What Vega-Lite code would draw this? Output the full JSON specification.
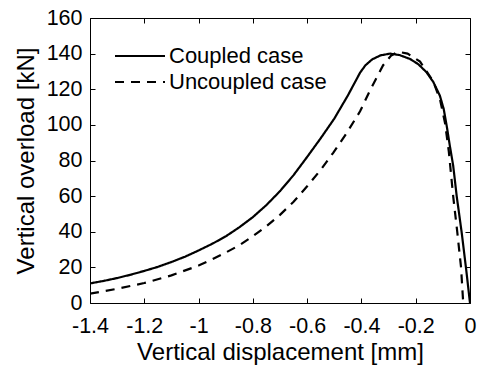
{
  "$schema": "https://vega.github.io/schema/vega-lite/v6.json",
  "autosize": "none",
  "width": 380,
  "height": 285,
  "padding": {"left": 90, "top": 18, "right": 7, "bottom": 65},
  "background": "white",
  "config": {
    "font": "Liberation Sans",
    "view": {"stroke": "black", "strokeWidth": 1},
    "axis": {"grid": false, "domainColor": "black", "tickColor": "black", "labelColor": "black", "titleColor": "black", "labelFont": "Liberation Sans", "titleFont": "Liberation Sans", "labelFontSize": 21.5, "titleFontSize": 24, "titleFontWeight": "normal", "tickSize": -5, "domain": false}
  },
  "data": {"values": [
    {"series": "Coupled case", "x": -1.4, "y": 11.0},
    {"series": "Coupled case", "x": -1.35, "y": 12.4},
    {"series": "Coupled case", "x": -1.3, "y": 14.0},
    {"series": "Coupled case", "x": -1.25, "y": 15.9},
    {"series": "Coupled case", "x": -1.2, "y": 18.0},
    {"series": "Coupled case", "x": -1.15, "y": 20.3},
    {"series": "Coupled case", "x": -1.1, "y": 23.0},
    {"series": "Coupled case", "x": -1.05, "y": 26.0},
    {"series": "Coupled case", "x": -1.0, "y": 29.5},
    {"series": "Coupled case", "x": -0.95, "y": 33.2},
    {"series": "Coupled case", "x": -0.9, "y": 37.4},
    {"series": "Coupled case", "x": -0.85, "y": 42.5},
    {"series": "Coupled case", "x": -0.8, "y": 48.2},
    {"series": "Coupled case", "x": -0.75, "y": 55.0},
    {"series": "Coupled case", "x": -0.7, "y": 62.8},
    {"series": "Coupled case", "x": -0.65, "y": 71.8},
    {"series": "Coupled case", "x": -0.6, "y": 82.0},
    {"series": "Coupled case", "x": -0.55, "y": 92.5},
    {"series": "Coupled case", "x": -0.5, "y": 103.5},
    {"series": "Coupled case", "x": -0.45, "y": 116.5},
    {"series": "Coupled case", "x": -0.405, "y": 129.3},
    {"series": "Coupled case", "x": -0.385, "y": 133.5},
    {"series": "Coupled case", "x": -0.36, "y": 136.8},
    {"series": "Coupled case", "x": -0.33, "y": 139.0},
    {"series": "Coupled case", "x": -0.295, "y": 140.0},
    {"series": "Coupled case", "x": -0.26, "y": 139.2},
    {"series": "Coupled case", "x": -0.221, "y": 137.0},
    {"series": "Coupled case", "x": -0.19, "y": 134.0},
    {"series": "Coupled case", "x": -0.16, "y": 129.5},
    {"series": "Coupled case", "x": -0.135, "y": 124.0},
    {"series": "Coupled case", "x": -0.111, "y": 116.4},
    {"series": "Coupled case", "x": -0.097, "y": 109.0},
    {"series": "Coupled case", "x": -0.086, "y": 99.6},
    {"series": "Coupled case", "x": -0.074, "y": 88.0},
    {"series": "Coupled case", "x": -0.062, "y": 77.2},
    {"series": "Coupled case", "x": -0.049, "y": 60.0},
    {"series": "Coupled case", "x": -0.031, "y": 40.0},
    {"series": "Coupled case", "x": -0.015, "y": 20.0},
    {"series": "Coupled case", "x": 0.0, "y": 0.0},
    {"series": "Uncoupled case", "x": -1.4, "y": 5.2},
    {"series": "Uncoupled case", "x": -1.3, "y": 8.0},
    {"series": "Uncoupled case", "x": -1.2, "y": 11.2},
    {"series": "Uncoupled case", "x": -1.1, "y": 15.5},
    {"series": "Uncoupled case", "x": -1.0, "y": 21.0},
    {"series": "Uncoupled case", "x": -0.95, "y": 24.5},
    {"series": "Uncoupled case", "x": -0.9, "y": 28.3},
    {"series": "Uncoupled case", "x": -0.85, "y": 32.4},
    {"series": "Uncoupled case", "x": -0.8, "y": 37.5},
    {"series": "Uncoupled case", "x": -0.75, "y": 43.1},
    {"series": "Uncoupled case", "x": -0.7, "y": 49.5},
    {"series": "Uncoupled case", "x": -0.65, "y": 56.8},
    {"series": "Uncoupled case", "x": -0.6, "y": 65.5},
    {"series": "Uncoupled case", "x": -0.55, "y": 74.8},
    {"series": "Uncoupled case", "x": -0.504, "y": 84.3},
    {"series": "Uncoupled case", "x": -0.454, "y": 95.5},
    {"series": "Uncoupled case", "x": -0.405, "y": 107.6},
    {"series": "Uncoupled case", "x": -0.368, "y": 119.5},
    {"series": "Uncoupled case", "x": -0.32, "y": 133.5},
    {"series": "Uncoupled case", "x": -0.29, "y": 139.0},
    {"series": "Uncoupled case", "x": -0.264, "y": 141.0},
    {"series": "Uncoupled case", "x": -0.23, "y": 140.0},
    {"series": "Uncoupled case", "x": -0.184, "y": 135.5},
    {"series": "Uncoupled case", "x": -0.135, "y": 124.3},
    {"series": "Uncoupled case", "x": -0.11, "y": 114.0},
    {"series": "Uncoupled case", "x": -0.092, "y": 101.0},
    {"series": "Uncoupled case", "x": -0.078, "y": 85.0},
    {"series": "Uncoupled case", "x": -0.062, "y": 60.0},
    {"series": "Uncoupled case", "x": -0.047, "y": 40.0},
    {"series": "Uncoupled case", "x": -0.033, "y": 20.0},
    {"series": "Uncoupled case", "x": -0.025, "y": 0.0}
  ]},
  "layer": [
    {
      "mark": {"type": "line", "color": "black", "strokeWidth": 2.2, "clip": true},
      "encoding": {
        "x": {"field": "x", "type": "quantitative", "scale": {"domain": [-1.4, 0], "nice": false, "zero": false},
              "axis": {"values": [-1.4, -1.2, -1.0, -0.8, -0.6, -0.4, -0.2, 0], "labelExpr": "'' + datum.value", "labelPadding": 17, "title": "Vertical displacement [mm]", "titlePadding": 4, "labelFlush": false}},
        "y": {"field": "y", "type": "quantitative", "scale": {"domain": [0, 160], "nice": false},
              "axis": {"values": [0, 20, 40, 60, 80, 100, 120, 140, 160], "labelPadding": 13, "title": "Vertical overload [kN]", "titlePadding": 8, "labelFlush": false}},
        "strokeDash": {"field": "series", "type": "nominal",
          "scale": {"domain": ["Coupled case", "Uncoupled case"], "range": [[1, 0], [9, 7]]},
          "legend": {"title": null, "orient": "none", "legendX": 36, "legendY": 24, "symbolType": "M-2,0H2", "symbolSize": 625, "symbolStrokeWidth": 2.2, "symbolStrokeColor": "black", "symbolFillColor": "transparent", "labelFontSize": 22, "labelFont": "Liberation Sans", "labelColor": "black", "rowPadding": 1, "labelOffset": 15, "symbolOffset": 0}}
      }
    },
    {
      "mark": {"type": "line", "strokeOpacity": 0},
      "encoding": {
        "x": {"field": "x", "type": "quantitative", "scale": {"domain": [-1.4, 0], "nice": false, "zero": false},
              "axis": {"orient": "top", "values": [-1.4, -1.2, -1.0, -0.8, -0.6, -0.4, -0.2, 0], "labels": false, "title": null}},
        "y": {"field": "y", "type": "quantitative", "scale": {"domain": [0, 160], "nice": false},
              "axis": {"orient": "right", "values": [0, 20, 40, 60, 80, 100, 120, 140, 160], "labels": false, "title": null}},
        "detail": {"field": "series"}
      }
    }
  ],
  "resolve": {"scale": {"x": "independent", "y": "independent"}}
}
